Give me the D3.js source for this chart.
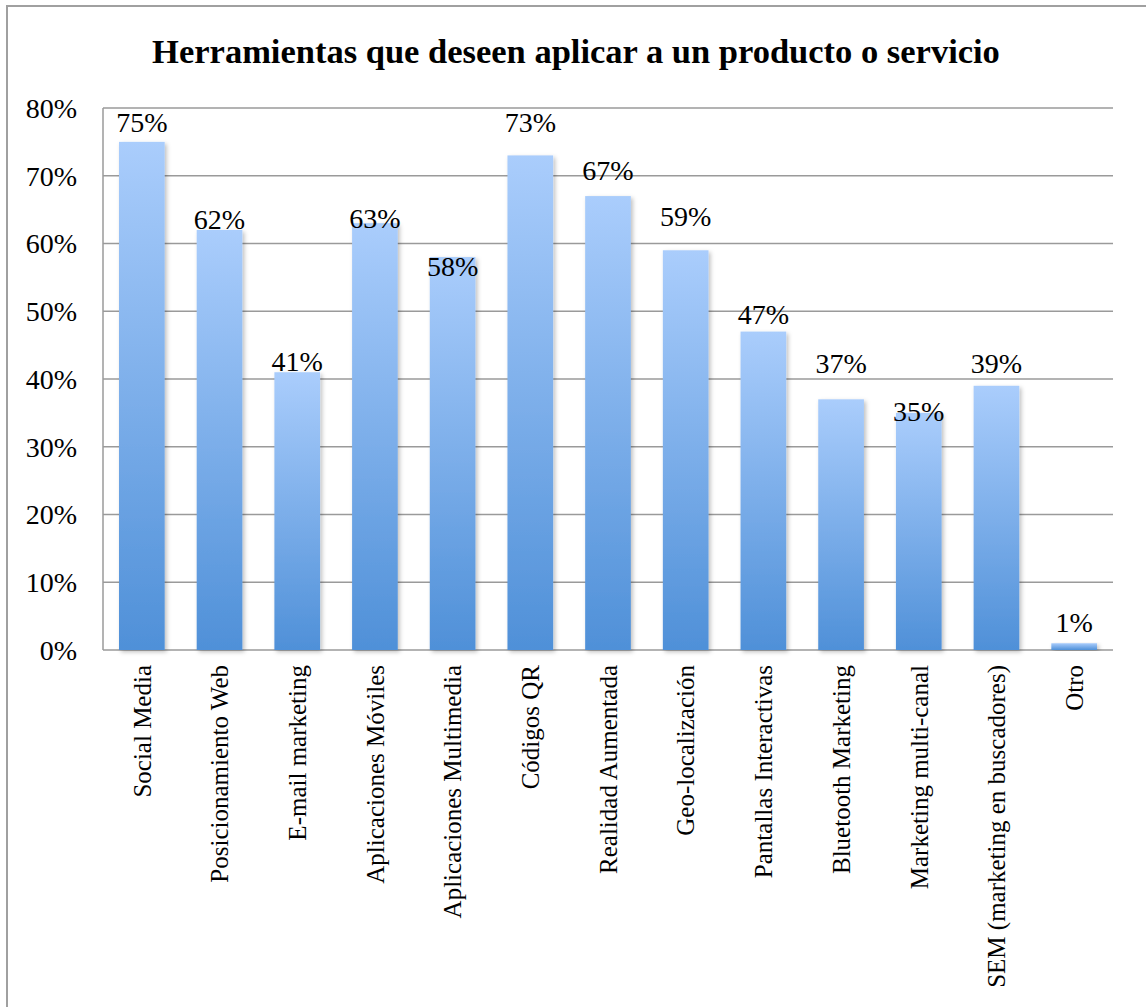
<!DOCTYPE html>
<html>
<head>
<meta charset="utf-8">
<script src="https://cdn.jsdelivr.net/npm/d3@7"></script>
<style>
  body { margin: 0; background: #fff; }
  svg { display: block; }
</style>
</head>
<body>
<svg width="1146" height="1007"></svg>
<script>
//data
const categories = [
  'Social Media', 'Posicionamiento Web', 'E-mail marketing', 'Aplicaciones Móviles',
  'Aplicaciones Multimedia', 'Códigos QR', 'Realidad Aumentada', 'Geo-localización',
  'Pantallas Interactivas', 'Bluetooth Marketing', 'Marketing multi-canal',
  'SEM (marketing en buscadores)', 'Otro'
];
const values = [0.75, 0.62, 0.41, 0.63, 0.58, 0.73, 0.67, 0.59, 0.47, 0.37, 0.35, 0.39, 0.01];
const yTicks = [0, 0.1, 0.2, 0.3, 0.4, 0.5, 0.6, 0.7, 0.8];
const title = 'Herramientas que deseen aplicar a un producto o servicio';

// label baseline offsets from bar top (px), as placed in the original
const labelNudge = [-10, -1, -1, 5, 19, -23, -16, -24, -8, -26, 8, -13, -11];

//set up
const svg = d3.select('svg');
const font = '"Liberation Serif", "Times New Roman", serif';
const plotLeft = 103, plotRight = 1113, plotTop = 108, plotBottom = 650;

// outer frame
svg.append('rect')
  .attr('x', 7).attr('y', 6)
  .attr('width', 1160).attr('height', 1020)
  .attr('fill', 'none')
  .attr('stroke', '#a0a0a0')
  .attr('stroke-width', 2);

// gradient + shadow
const defs = svg.append('defs');
const grad = defs.append('linearGradient')
  .attr('id', 'barGrad')
  .attr('x1', 0).attr('y1', 0).attr('x2', 0).attr('y2', 1);
grad.append('stop').attr('offset', '0%').attr('stop-color', '#aacdfc');
grad.append('stop').attr('offset', '100%').attr('stop-color', '#4f90d8');

const shadow = defs.append('filter')
  .attr('id', 'shadow')
  .attr('x', '-20%').attr('y', '-5%').attr('width', '150%').attr('height', '115%');
shadow.append('feDropShadow')
  .attr('dx', 2).attr('dy', 2)
  .attr('stdDeviation', 2)
  .attr('flood-color', '#000')
  .attr('flood-opacity', 0.25);

//scales
const x = d3.scaleBand()
  .domain(categories)
  .range([plotLeft, plotRight])
  .paddingInner(0.412)
  .paddingOuter(0.206);

const y = d3.scaleLinear()
  .domain([0, 0.8])
  .range([plotBottom, plotTop]);

// gridlines
svg.append('g')
  .selectAll('line')
  .data(yTicks)
  .join('line')
  .attr('x1', plotLeft)
  .attr('x2', plotRight)
  .attr('y1', d => y(d))
  .attr('y2', d => y(d))
  .attr('stroke', '#9a9a9a')
  .attr('stroke-width', 1.5);

// left axis line
svg.append('line')
  .attr('x1', plotLeft).attr('x2', plotLeft)
  .attr('y1', plotTop).attr('y2', plotBottom)
  .attr('stroke', '#9a9a9a')
  .attr('stroke-width', 1.5);

// y tick labels
svg.append('g')
  .selectAll('text')
  .data(yTicks)
  .join('text')
  .attr('x', 77)
  .attr('y', d => y(d))
  .attr('dy', '0.35em')
  .attr('text-anchor', 'end')
  .style('font-family', font)
  .style('font-size', '28px')
  .style('fill', '#000')
  .text(d3.format('.0%'));

// bars
svg.append('g')
  .selectAll('rect')
  .data(values)
  .join('rect')
  .attr('x', (d, i) => x(categories[i]))
  .attr('y', d => y(d))
  .attr('width', x.bandwidth())
  .attr('height', d => y(0) - y(d))
  .attr('fill', 'url(#barGrad)')
  .attr('filter', 'url(#shadow)');

// value labels
svg.append('g')
  .selectAll('text')
  .data(values)
  .join('text')
  .attr('x', (d, i) => x(categories[i]) + x.bandwidth() / 2)
  .attr('y', (d, i) => y(d) + labelNudge[i])
  .attr('text-anchor', 'middle')
  .style('font-family', font)
  .style('font-size', '28px')
  .style('fill', '#000')
  .text(d3.format('.0%'));

// category labels
svg.append('g')
  .selectAll('text')
  .data(categories)
  .join('text')
  .attr('transform', d => `translate(${x(d) + x.bandwidth() / 2},665) rotate(-90)`)
  .attr('dy', '0.35em')
  .attr('text-anchor', 'end')
  .style('font-family', font)
  .style('font-size', '25px')
  .style('fill', '#000')
  .text(d => d);

// title
svg.append('text')
  .attr('x', 576)
  .attr('y', 63)
  .attr('text-anchor', 'middle')
  .style('font-family', font)
  .style('font-size', '34.5px')
  .style('font-weight', 'bold')
  .style('fill', '#000')
  .text(title);
</script>
</body>
</html>
